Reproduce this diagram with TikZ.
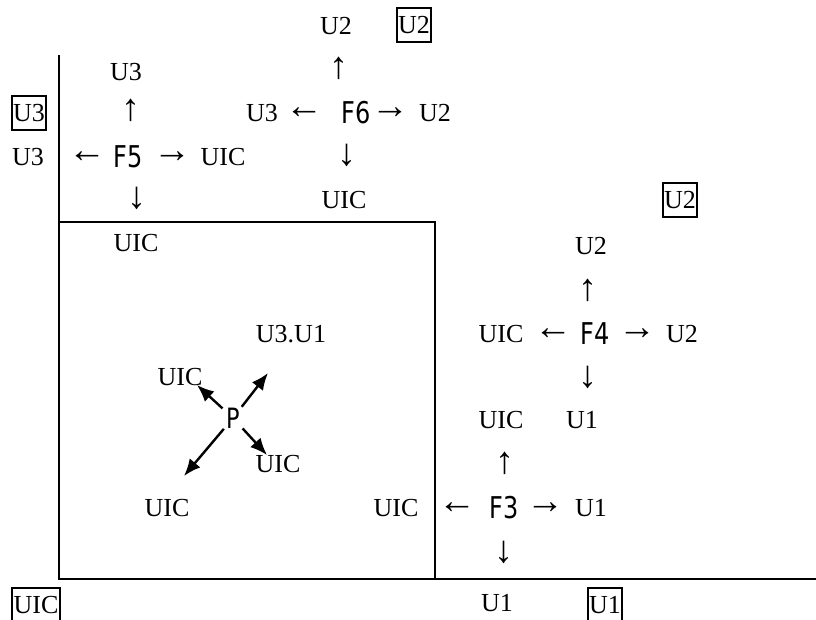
\documentclass[tikz,border=0pt]{standalone}
\usepackage{fontspec}
\usepackage{graphicx}
\setmainfont{Liberation Serif}
\newfontfamily\symfont{DejaVu Sans}
\usetikzlibrary{arrows.meta}
\newcommand{\narrow}[1]{\scalebox{0.8}[1]{#1}}

\begin{document}
\begin{tikzpicture}[x=1pt, y=-1pt, font=\fontsize{26}{30}\selectfont, lbl/.style={inner sep=0pt}, tag/.style={draw, line width=2pt, inner xsep=1.5pt, inner ysep=2.5pt, text height=23pt, text depth=6pt}, sym/.style={inner sep=0pt, font=\fontsize{38}{40}\selectfont}, fn/.style={inner sep=0pt, font=\fontsize{30}{34}\selectfont\symfont}, wall/.style={line width=2pt}, arr/.style={-{Latex[length=17pt, width=14pt]}, line width=2.4pt}]
\useasboundingbox (0,0) rectangle (816,619);
\clip (0,0) rectangle (816,619);
\draw[wall] (59,55) -- (59,579) -- (816,579);
\draw[wall] (59,222) -- (435,222) -- (435,579);
\node[lbl] (f6uu) at (336,26) {U2};
\node[tag] (tagu2a) at (414,25) {U2};
\node[fn] (f6) at (356,113) {\narrow{F6}};
\node[sym] (f6up) at (339,68) {↑};
\node[sym] (f6l) at (304,113) {←};
\node[lbl] (f6lu) at (262,113) {U3};
\node[sym] (f6r) at (390,113) {→};
\node[lbl] (f6ru) at (435,113) {U2};
\node[sym] (f6dn) at (347,155) {↓};
\node[lbl] (f6du) at (344,200) {UIC};
\node[tag] (tagu3) at (29,113) {U3};
\node[fn] (f5) at (128,157) {\narrow{F5}};
\node[sym] (f5up) at (131,110) {↑};
\node[lbl] (f5uu) at (126,72) {U3};
\node[sym] (f5l) at (87,157) {←};
\node[lbl] (f5lu) at (28,157) {U3};
\node[sym] (f5r) at (172,157) {→};
\node[lbl] (f5ru) at (223,157) {UIC};
\node[sym] (f5dn) at (137,198) {↓};
\node[lbl] (f5du) at (136,243) {UIC};
\node[tag] (tagu2b) at (680,200) {U2};
\node[fn] (f4) at (595,334) {\narrow{F4}};
\node[sym] (f4up) at (588,290) {↑};
\node[lbl] (f4uu) at (591,246) {U2};
\node[sym] (f4l) at (553,334) {←};
\node[lbl] (f4lu) at (501,334) {UIC};
\node[sym] (f4r) at (637,334) {→};
\node[lbl] (f4ru) at (682,334) {U2};
\node[sym] (f4dn) at (588,377) {↓};
\node[lbl] (f4du) at (582,420) {U1};
\node[fn] (f3) at (504,508) {\narrow{F3}};
\node[sym] (f3up) at (505,463) {↑};
\node[lbl] (f3uu) at (501,420) {UIC};
\node[sym] (f3l) at (457,508) {←};
\node[lbl] (f3lu) at (396,508) {UIC};
\node[sym] (f3r) at (545,508) {→};
\node[lbl] (f3ru) at (591,508) {U1};
\node[sym] (f3dn) at (504,552) {↓};
\node[lbl] (f3du) at (497,603) {U1};
\node[tag] (taguic) at (36,605) {UIC};
\node[tag] (tagu1) at (605,605) {U1};
\node[fn, circle, minimum size=28pt, font=\fontsize{28}{30}\selectfont\symfont] (p) at (233,418) {\narrow{P}};
\node[lbl] (pur) at (291,334) {U3.U1};
\node[lbl] (pul) at (180,377) {UIC};
\node[lbl] (plr) at (278,464) {UIC};
\node[lbl] (pll) at (167,508) {UIC};
\coordinate (pura) at (268,373);
\coordinate (pula) at (197,385);
\coordinate (plra) at (267,455);
\coordinate (plla) at (184,476);
\draw[arr] (p) -- (pura);
\draw[arr] (p) -- (pula);
\draw[arr] (p) -- (plra);
\draw[arr] (p) -- (plla);
\end{tikzpicture}
\end{document}
